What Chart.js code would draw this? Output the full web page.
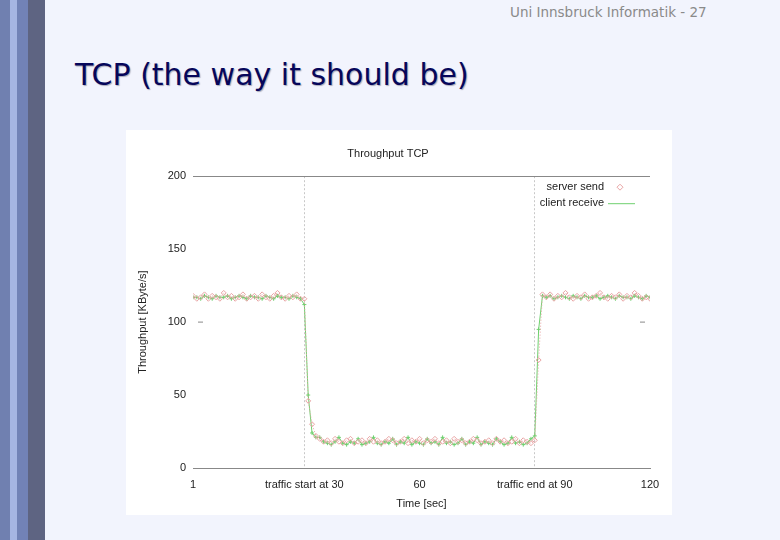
<!DOCTYPE html>
<html>
<head>
<meta charset="utf-8">
<script src="https://cdn.jsdelivr.net/npm/chart.js@4.4.0/dist/chart.umd.min.js"></script>
<style>
  html, body { margin: 0; padding: 0; }
  body { width: 780px; height: 540px; background: #f2f4fd; position: relative; overflow: hidden; }
  #stripes { position: absolute; left: 0; top: 0; width: 45px; height: 540px;
    background: linear-gradient(to right, #7080b0 0 10px, #a6b5e2 10px 17px, #7282b6 17px 28px, #5e6482 28px 45px); }
  #header { position: absolute; left: 510px; top: 4px; font: 13.5px "DejaVu Sans", sans-serif; color: #8a8a8a; }
  #title { position: absolute; left: 75px; top: 57px; font: 30px "DejaVu Sans", sans-serif; color: #06065a;
    text-shadow: 1px 1px 1px #a8a8b8; }
  #box { position: absolute; left: 126px; top: 130px; width: 546px; height: 385px; background: #fff; }
</style>
</head>
<body>
<div id="stripes"></div>
<div id="header">Uni Innsbruck Informatik - 27</div>
<div id="title">TCP (the way it should be)</div>
<div id="box"><canvas id="chart" width="546" height="385"></canvas></div>
<script>
/* --------------- Data --------------- */
const seconds = Array.from({ length: 120 }, (_, i) => i + 1);
const xTicks = [1, 30, 60, 90, 120];
const xTickLabels = ["1", "traffic start at 30", "60", "traffic end at 90", "120"];
const yTicks = [0, 50, 100, 150, 200];
const seriesNames = ["server send", "client receive"];

const serverSend = [
  118, 116, 117, 119, 116, 118, 117, 116, 120, 117,
  118, 116, 117, 119, 116, 117, 118, 116, 119, 117,
  116, 118, 120, 117, 116, 118, 117, 119, 116, 116,
  46, 30, 22, 20, 18, 19, 17, 20, 18, 17,
  19, 20, 17, 18, 19, 17, 20, 18, 19, 17,
  18, 20, 19, 17, 18, 20, 17, 19, 18, 20,
  17, 19, 18, 20, 17, 18, 19, 17, 20, 18,
  19, 17, 18, 20, 19, 17, 18, 19, 17, 20,
  18, 19, 17, 18, 20, 17, 19, 18, 17, 19,
  74, 119, 117, 119, 116, 118, 117, 120, 117, 116,
  118, 117, 119, 116, 117, 118, 120, 117, 116, 118,
  117, 119, 116, 118, 117, 120, 118, 116, 117, 116
];
const clientReceive = [
  117, 117, 116, 118, 117, 116, 118, 117, 117, 118,
  116, 117, 118, 117, 116, 118, 117, 117, 116, 118,
  117, 116, 118, 117, 117, 116, 118, 117, 116, 112,
  50, 24, 21, 21, 18, 17, 16, 18, 21, 17,
  16, 18, 17, 20, 16, 17, 18, 21, 17, 16,
  18, 17, 20, 16, 18, 17, 21, 16, 18, 17,
  16, 20, 17, 18, 16, 21, 17, 18, 16, 17,
  20, 16, 18, 17, 21, 16, 18, 17, 16, 20,
  18, 16, 17, 21, 17, 18, 16, 17, 20, 22,
  95, 118, 117, 118, 116, 117, 118, 117, 116, 118,
  117, 116, 118, 117, 117, 118, 116, 117, 118, 117,
  116, 118, 117, 117, 116, 118, 117, 116, 118, 117
];

const sendColor = "#e8a4a4";
const recvColor = "#6fd06f";
const font = { family: "'Liberation Sans', Arial, sans-serif", size: 11, weight: "normal" };

/* --------------- small ticks at 100 + gnuplot style key --------------- */
const extras = {
  id: "extras",
  afterDraw(chart) {
    const { ctx, chartArea: a } = chart;
    const y = chart.scales.y.getPixelForValue(100);
    ctx.save();
    ctx.strokeStyle = "#888";
    ctx.lineWidth = 1;
    ctx.beginPath();
    ctx.moveTo(a.left + 5, y); ctx.lineTo(a.left + 10, y);
    ctx.moveTo(a.right - 10, y); ctx.lineTo(a.right - 5, y);
    ctx.stroke();

    // key in the top right corner
    ctx.font = "11px 'Liberation Sans', Arial, sans-serif";
    ctx.fillStyle = "#222";
    ctx.textAlign = "right";
    ctx.textBaseline = "middle";
    const tx = a.right - 46;
    const y1 = a.top + 11, y2 = a.top + 27;
    ctx.fillText(seriesNames[0], tx, y1);
    ctx.fillText(seriesNames[1], tx, y2);
    const dx = a.right - 30;
    ctx.strokeStyle = sendColor;
    ctx.beginPath();
    ctx.moveTo(dx, y1 - 3); ctx.lineTo(dx + 3, y1); ctx.lineTo(dx, y1 + 3); ctx.lineTo(dx - 3, y1); ctx.closePath();
    ctx.stroke();
    ctx.strokeStyle = recvColor;
    ctx.beginPath();
    ctx.moveTo(a.right - 42, y2 + 0.5); ctx.lineTo(a.right - 15, y2 + 0.5);
    ctx.stroke();
    ctx.restore();
  }
};

/* --------------- Chart --------------- */
new Chart(document.getElementById("chart"), {
  type: "line",
  plugins: [extras],
  data: {
    datasets: [
      {
        label: seriesNames[0],
        data: seconds.map((s, i) => ({ x: s, y: serverSend[i] })),
        borderColor: sendColor,
        backgroundColor: "transparent",
        borderWidth: 1,
        borderDash: [1, 2],
        pointStyle: "rectRot",
        pointRadius: 2.5,
        pointBorderWidth: 1,
      },
      {
        label: seriesNames[1],
        data: seconds.map((s, i) => ({ x: s, y: clientReceive[i] })),
        borderColor: recvColor,
        backgroundColor: recvColor,
        borderWidth: 1,
        pointStyle: "cross",
        pointRadius: 2,
        pointBorderWidth: 1,
      },
    ],
  },
  options: {
    responsive: false,
    animation: false,
    layout: { padding: { right: 22 } },
    plugins: {
      tooltip: { enabled: false },
      legend: { display: false },
      title: {
        display: true,
        text: "Throughput TCP",
        font: font,
        color: "#222",
        padding: { top: 17, bottom: 16 },
      },
    },
    scales: {
      x: {
        type: "linear",
        min: 1,
        max: 120,
        afterBuildTicks: (scale) => { scale.ticks = xTicks.map((v) => ({ value: v })); },
        afterFit: (scale) => { scale.height = 47; },
        ticks: {
          font: font,
          color: "#222",
          padding: 10,
          maxRotation: 0,
          autoSkip: false,
          callback: (v) => xTickLabels[xTicks.indexOf(v)],
        },
        grid: {
          drawTicks: false,
          color: (c) => (c.tick && (c.tick.value === 30 || c.tick.value === 90) ? "#c8c8c8" : "transparent"),
        },
        border: { display: true, color: "#888", dash: [2, 2] },
        title: { display: true, text: "Time [sec]", font: font, color: "#222", padding: { top: 10 } },
      },
      y: {
        min: 0,
        max: 200,
        afterBuildTicks: (scale) => { scale.ticks = yTicks.map((v) => ({ value: v })); },
        afterFit: (scale) => { scale.width = 67; },
        ticks: { font: font, color: "#222", padding: 7 },
        grid: {
          drawTicks: false,
          color: (c) => (c.tick && (c.tick.value === 200 || c.tick.value === 0) ? "#888" : "transparent"),
        },
        border: { display: false },
        title: { display: true, text: "Throughput [KByte/s]", font: font, color: "#222", padding: { top: 10, bottom: 4 } },
      },
    },
  },
});
</script>
</body>
</html>
